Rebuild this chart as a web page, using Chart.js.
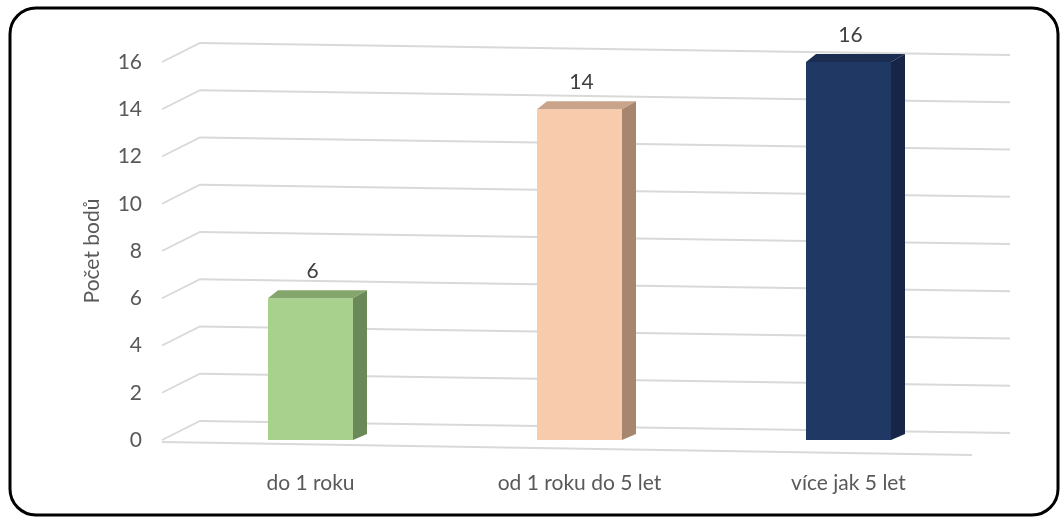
<!DOCTYPE html>
<html>
<head>
<meta charset="utf-8">
<script src="https://cdn.jsdelivr.net/npm/chart.js@4.4.1/dist/chart.umd.min.js"></script>
<style>
  html, body { margin: 0; padding: 0; background: #fff; }
  #wrap { width: 1062px; height: 520px; position: relative; }
</style>
</head>
<body>
<div id="wrap"><canvas id="chart"></canvas></div>
<script>
const categories = ["do 1 roku", "od 1 roku do 5 let", "více jak 5 let"];
const values = [6, 14, 16];
const frontColors = ["#A9D18E", "#F8CBAD", "#203864"];
const topColors = ["#84A66C", "#C9A48B", "#1B2E52"];
const sideColors = ["#6A8858", "#A6866F", "#172646"];

// rounded black frame around the chart
const framePlugin = {
	id: 'frame',
	beforeDraw(chart) {
		const ctx = chart.ctx;
		ctx.save();
		ctx.fillStyle = '#fff';
		ctx.fillRect(0, 0, chart.width, chart.height);
		ctx.lineWidth = 3;
		ctx.strokeStyle = '#000';
		ctx.beginPath();
		ctx.roundRect(10, 8, 1048, 507, 26);
		ctx.stroke();
		ctx.restore();
	}
};

// perspective grid: side wall + back wall + floor edge
const gridPlugin = {
	id: 'perspGrid',
	beforeDatasetsDraw(chart) {
		const ctx = chart.ctx;
		const y = chart.scales.y;
		ctx.save();
		ctx.strokeStyle = '#D9D9D9';
		ctx.lineWidth = 1.8;
		y.ticks.forEach(t => {
			const py = y.getPixelForValue(t.value);
			ctx.beginPath();
			ctx.moveTo(162, py);
			ctx.lineTo(200, py - 19);
			ctx.lineTo(1010, py - 7);
			ctx.stroke();
		});
		const p0 = y.getPixelForValue(0);
		ctx.beginPath();
		ctx.moveTo(162, p0 + 2);
		ctx.lineTo(972, p0 + 15);
		ctx.stroke();
		ctx.restore();
	}
};

// top and side faces of the bars + value labels
const boxPlugin = {
	id: 'box3d',
	afterDatasetsDraw(chart) {
		const ctx = chart.ctx;
		const meta = chart.getDatasetMeta(0);
		const dx = 14, dy = -8;
		ctx.save();
		meta.data.forEach((bar, i) => {
			const left = bar.x - bar.width / 2;
			const right = bar.x + bar.width / 2;
			const top = bar.y;
			const bottom = bar.base;
			// top face
			ctx.fillStyle = topColors[i];
			ctx.beginPath();
			ctx.moveTo(left, top);
			ctx.lineTo(left + dx - 4, top + dy);
			ctx.lineTo(right + dx, top + dy);
			ctx.lineTo(right, top);
			ctx.closePath();
			ctx.fill();
			// side face
			ctx.fillStyle = sideColors[i];
			ctx.beginPath();
			ctx.moveTo(right, top);
			ctx.lineTo(right + dx, top + dy);
			ctx.lineTo(right + dx, bottom + dy + 2);
			ctx.lineTo(right, bottom);
			ctx.closePath();
			ctx.fill();
			// value label
			ctx.fillStyle = '#404040';
			ctx.font = '21px Lato';
			ctx.textAlign = 'center';
			ctx.textBaseline = 'middle';
			ctx.fillText(String(values[i]), bar.x + 2, top - 27);
		});
		ctx.restore();
	}
};

new Chart(document.getElementById('chart'), {
	type: 'bar',
	data: {
		labels: categories,
		datasets: [{
			data: values,
			backgroundColor: frontColors,
			borderWidth: 0,
			categoryPercentage: 1,
			barPercentage: 0.316
		}]
	},
	options: {
		responsive: true,
		maintainAspectRatio: false,
		animation: false,
		events: [],
		layout: { padding: { top: 62, right: 79, left: 0, bottom: 0 } },
		plugins: {
			legend: { display: false },
			tooltip: { enabled: false }
		},
		scales: {
			y: {
				min: 0,
				max: 16,
				ticks: {
					stepSize: 2,
					color: '#595959',
					font: { family: 'Lato', size: 21 },
					padding: 34
				},
				grid: { display: false, drawTicks: false },
				border: { display: false },
				title: {
					display: true,
					text: 'Počet bodů',
					color: '#595959',
					font: { family: 'Lato', size: 21 },
					padding: { top: 80 }
				},
				afterFit(scale) { scale.width = 176; }
			},
			x: {
				ticks: {
					color: '#595959',
					font: { family: 'Lato', size: 21 },
					padding: 31
				},
				grid: { display: false, drawTicks: false },
				border: { display: false },
				afterFit(scale) { scale.height = 80; }
			}
		}
	},
	plugins: [framePlugin, gridPlugin, boxPlugin]
});
</script>
</body>
</html>
